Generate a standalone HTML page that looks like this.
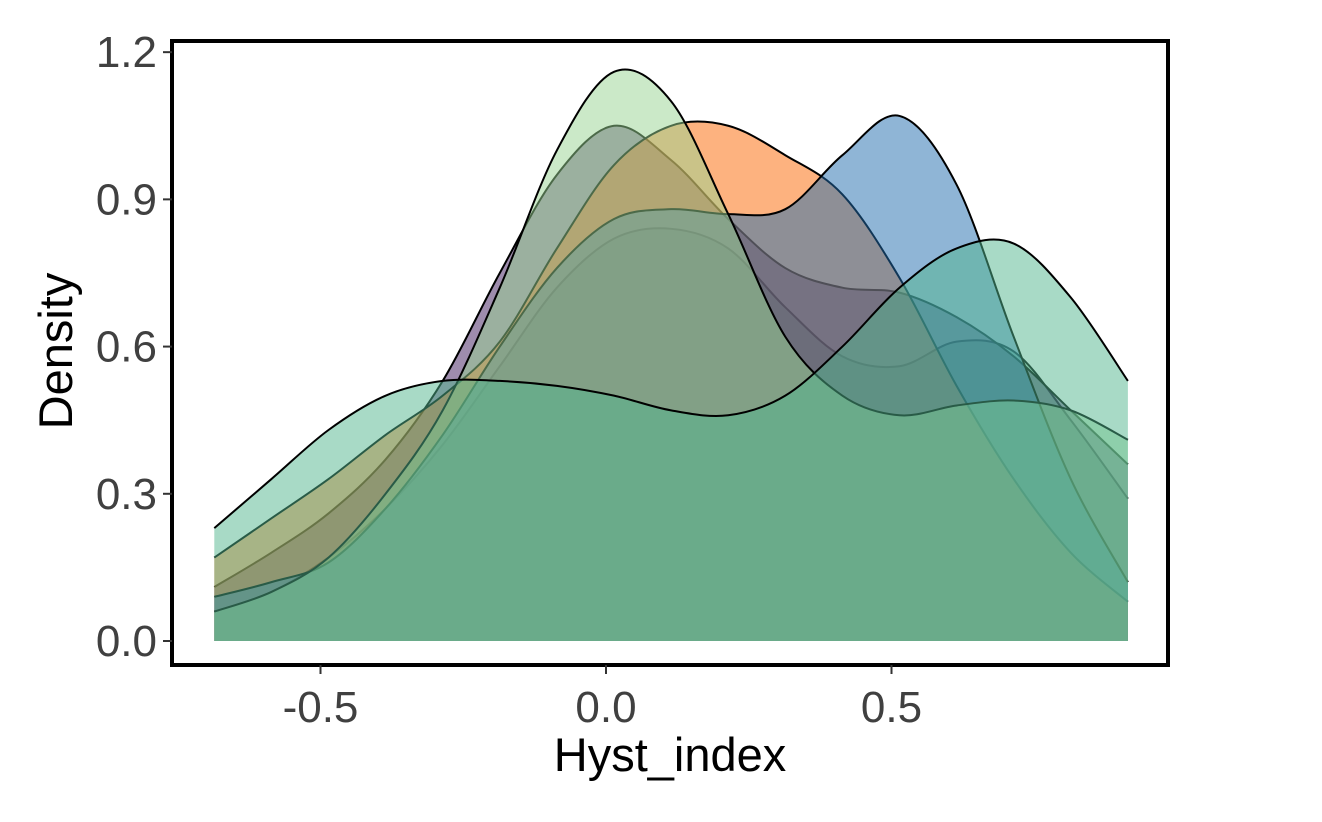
<!DOCTYPE html>
<html><head><meta charset="utf-8"><style>
body{margin:0;background:#fff}
text{font-family:"Liberation Sans",Arial,sans-serif}
</style></head><body>
<svg id="chart" width="1322" height="817">
<g id="marks"></g>
<g id="axes"></g>
</svg>
<script>
const xGrid=[-0.686,-0.586,-0.486,-0.386,-0.286,-0.186,-0.086,0.014,0.114,0.214,0.314,0.414,0.514,0.614,0.714,0.814,0.914];
const faintVals=[0.06,0.1,0.17,0.27,0.4,0.56,0.72,0.82,0.84,0.8,0.68,0.58,0.56,0.61,0.59,0.45,0.29];
const purpleVals=[0.11,0.18,0.26,0.37,0.53,0.75,0.95,1.05,0.98,0.86,0.76,0.72,0.71,0.66,0.58,0.47,0.36];
const orangeVals=[0.17,0.25,0.33,0.42,0.5,0.61,0.8,0.97,1.05,1.05,0.99,0.91,0.74,0.52,0.33,0.18,0.08];
const blueVals=[0.09,0.12,0.16,0.27,0.42,0.6,0.76,0.86,0.88,0.87,0.88,0.99,1.07,0.93,0.62,0.33,0.12];
const lgreenVals=[0.06,0.1,0.17,0.3,0.47,0.72,1.0,1.16,1.1,0.87,0.62,0.5,0.46,0.48,0.49,0.47,0.41];
const tealVals=[0.23,0.33,0.43,0.5,0.53,0.53,0.52,0.5,0.47,0.46,0.5,0.6,0.72,0.8,0.81,0.7,0.53];
const seriesNames=["group-a","group-b","group-c","group-d","group-e","group-f"];
const seriesVals=[faintVals,purpleVals,orangeVals,blueVals,lgreenVals,tealVals];
const seriesFill=["#5fa67f","#3d1a5c","#fb6600","#1f6bad","#97d391","#51b58d"];
const yTicks=[0,0.3,0.6,0.9,1.2];
const yTickLabels=["0.0","0.3","0.6","0.9","1.2"];
const xTicks=[-0.5,0,0.5];
const xTickLabels=["-0.5","0.0","0.5"];

const NS="http://www.w3.org/2000/svg";
const X=v=>606+571*v;
const Y=v=>641-490.7*v;
function mk(tag,attrs,parent){const e=document.createElementNS(NS,tag);for(const k in attrs)e.setAttribute(k,attrs[k]);parent.appendChild(e);return e;}
function curvePath(vals){
  const p=xGrid.map((x,i)=>[X(x),Y(vals[i])]);
  let d="M"+p[0][0]+","+p[0][1];
  for(let i=0;i<p.length-1;i++){
    const p0=p[Math.max(0,i-1)],p1=p[i],p2=p[i+1],p3=p[Math.min(p.length-1,i+2)];
    const c1=[p1[0]+(p2[0]-p0[0])/6,p1[1]+(p2[1]-p0[1])/6];
    const c2=[p2[0]-(p3[0]-p1[0])/6,p2[1]-(p3[1]-p1[1])/6];
    d+=" C"+c1[0]+","+c1[1]+" "+c2[0]+","+c2[1]+" "+p2[0]+","+p2[1];
  }
  return d;
}
const marks=document.getElementById("marks");
seriesVals.forEach((vals,i)=>{
  const d=curvePath(vals);
  const f=mk("path",{d:d+" L"+X(xGrid[xGrid.length-1])+","+Y(0)+" L"+X(xGrid[0])+","+Y(0)+" Z",fill:seriesFill[i],"fill-opacity":0.5,stroke:"none"},marks);
  
  
  const s=mk("path",{d:d,fill:"none",stroke:"#000","stroke-width":2},marks);
  
  
});
const axes=document.getElementById("axes");
const border=mk("rect",{x:172,y:41,width:996,height:624,fill:"none",stroke:"#000","stroke-width":4},axes);


yTicks.forEach((v,i)=>{
  const t=mk("line",{x1:163,x2:172,y1:Y(v),y2:Y(v),stroke:"#333","stroke-width":2},axes);
  
  
  const l=mk("text",{x:157,y:Y(v)+15,"text-anchor":"end","font-size":44,fill:"#404040"},axes);
  l.textContent=yTickLabels[i];
  
  
});
xTicks.forEach((v,i)=>{
  const t=mk("line",{x1:X(v),x2:X(v),y1:665,y2:674,stroke:"#333","stroke-width":2},axes);
  
  
  const l=mk("text",{x:X(v),y:722,"text-anchor":"middle","font-size":44,fill:"#404040"},axes);
  l.textContent=xTickLabels[i];
  
  
});
const xt=mk("text",{x:670,y:771,"text-anchor":"middle","font-size":47,fill:"#000"},axes);
xt.textContent="Hyst_index";


const yt=mk("text",{x:0,y:0,"text-anchor":"middle","font-size":47,fill:"#000",transform:"translate(72,351) rotate(-90)"},axes);
yt.textContent="Density";


</script>
</body></html>
